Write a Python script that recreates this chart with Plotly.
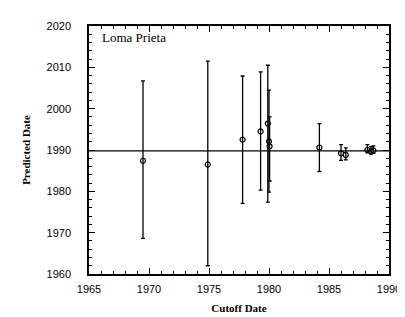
import plotly.graph_objects as go

cutoff = [1969.5, 1974.9, 1977.8, 1979.3, 1979.9, 1980.0, 1980.05, 1984.2, 1986.0, 1986.4, 1988.2, 1988.5, 1988.7]
predicted = [1987.4, 1986.5, 1992.5, 1994.5, 1996.4, 1992.1, 1990.9, 1990.6, 1989.2, 1988.8, 1990.0, 1989.7, 1989.9]
upper = [2006.7, 2011.5, 2007.9, 2008.9, 2010.5, 2004.5, 1998.0, 1996.4, 1991.3, 1990.5, 1991.3, 1990.8, 1991.0]
lower = [1968.6, 1962.0, 1977.1, 1980.3, 1977.4, 1979.8, 1982.5, 1984.8, 1987.5, 1987.6, 1989.3, 1989.0, 1989.2]
event_date = 1989.8

x_range = [1965, 1990]
y_range = [1960, 2020]
x_ticks = [1965, 1970, 1975, 1980, 1985, 1990]
y_ticks = [1960, 1970, 1980, 1990, 2000, 2010, 2020]

err_plus = [u - p for u, p in zip(upper, predicted)]
err_minus = [p - l for p, l in zip(predicted, lower)]

fig = go.Figure()
fig.add_trace(go.Scatter(
    x=x_range, y=[event_date, event_date], mode="lines",
    line=dict(color="black", width=1.3), showlegend=False, hoverinfo="skip"))
fig.add_trace(go.Scatter(
    x=cutoff, y=predicted, mode="markers",
    marker=dict(symbol="circle-open", size=5, color="black", line=dict(width=1.2)),
    error_y=dict(type="data", symmetric=False, array=err_plus, arrayminus=err_minus,
                 color="black", thickness=1.3, width=2),
    showlegend=False))

axis_common = dict(
    showgrid=False, zeroline=False, showline=True, linecolor="black", linewidth=1.5,
    mirror="allticks", ticks="inside", tickcolor="black", tickwidth=1.2, ticklen=6,
    tickfont=dict(family="Liberation Sans, Arial, sans-serif", size=11, color="black"),
)

fig.update_xaxes(range=x_range, tickvals=x_ticks, ticktext=[str(t) for t in x_ticks],
                 minor=dict(dtick=1, ticks="inside", ticklen=3, tickcolor="black", tickwidth=1),
                 title=dict(text="<b>Cutoff Date</b>", standoff=10,
                            font=dict(family="Liberation Serif, Times New Roman, serif", size=11, color="black")),
                 ticklabelstandoff=4,
                 **axis_common)
fig.update_yaxes(range=y_range, tickvals=y_ticks, ticktext=[str(t) for t in y_ticks],
                 minor=dict(dtick=2, ticks="inside", ticklen=3, tickcolor="black", tickwidth=1),
                 title=dict(text="<b>Predicted Date</b>", standoff=14,
                            font=dict(family="Liberation Serif, Times New Roman, serif", size=11, color="black")),
                 ticklabelstandoff=14,
                 **axis_common)

fig.add_annotation(x=0.035, y=0.955, xref="paper", yref="paper", text="Loma Prieta",
                   showarrow=False, xanchor="left", yanchor="middle",
                   font=dict(family="Liberation Serif, Times New Roman, serif", size=13, color="black"))

fig.update_layout(width=405, height=317, margin=dict(l=81, r=14, t=15, b=51),
                  plot_bgcolor="white", paper_bgcolor="white")

fig.write_html("out.html")
